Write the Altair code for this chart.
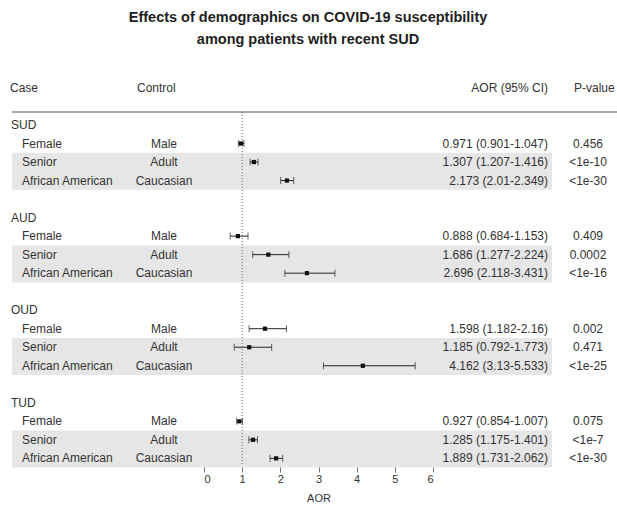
import altair as alt
import pandas as pd

# Substance-use-disorder groups and the demographic comparisons within each
groups = ["SUD", "AUD", "OUD", "TUD"]
cases = ["Female", "Senior", "African American"]
controls = ["Male", "Adult", "Caucasian"]

# Adjusted odds ratios with 95% confidence limits, in group order
aor = [0.971, 1.307, 2.173, 0.888, 1.686, 2.696, 1.598, 1.185, 4.162, 0.927, 1.285, 1.889]
ci_low = [0.901, 1.207, 2.01, 0.684, 1.277, 2.118, 1.182, 0.792, 3.13, 0.854, 1.175, 1.731]
ci_high = [1.047, 1.416, 2.349, 1.153, 2.224, 3.431, 2.16, 1.773, 5.533, 1.007, 1.401, 2.062]
p_values = ["0.456", "<1e-10", "<1e-30", "0.409", "0.0002", "<1e-16",
            "0.002", "0.471", "<1e-25", "0.075", "<1e-7", "<1e-30"]
x_ticks = [0, 1, 2, 3, 4, 5, 6]

FONT = "Liberation Sans"
INK = "#333333"

records = []
for i, (a, lo, hi, p) in enumerate(zip(aor, ci_low, ci_high, p_values)):
    g, k = divmod(i, 3)
    records.append({
        "group": groups[g], "case": cases[k], "control": controls[k],
        "row": 5 * g + k + 1, "aor": a, "lo": lo, "hi": hi,
        "label": f"{a:g} ({lo:g}-{hi:g})", "p": p, "shaded": k > 0,
    })
df = pd.DataFrame(records)
group_df = pd.DataFrame({"group": groups, "row": [5 * g for g in range(len(groups))]})
header_df = pd.DataFrame({"row": [-2]})
ref_df = pd.DataFrame({"v": [1]})
caps_df = df.melt(id_vars=["row"], value_vars=["lo", "hi"], value_name="cap")

y_scale = alt.Scale(domain=[-0.702, 18.413], reverse=True, nice=False, zero=False)
x_scale = alt.Scale(domain=[0, 6], nice=False, zero=False)
x_axis = alt.Axis(values=x_ticks, title="AOR", grid=False, format="d")


def xq(field):
    return alt.X(f"{field}:Q", scale=x_scale, axis=x_axis, title="AOR")


def yq(field="row"):
    return alt.Y(f"{field}:Q", scale=y_scale, axis=None)


base = alt.Chart(df)

# grey bands behind the Senior / African American rows
bands = base.transform_filter("datum.shaded").transform_calculate(
    y0="datum.row - 0.5", y1="datum.row + 0.5"
).mark_rect(color="#e6e6e6").encode(
    x=alt.value(-192), x2=alt.value(348),
    y=yq("y0"), y2=alt.Y2("y1:Q"),
)

header_rule = alt.Chart(header_df).mark_rule(color="#555", strokeWidth=1.2).encode(
    x=alt.value(-192), x2=alt.value(413), y=alt.value(0)
)

ref_line = alt.Chart(ref_df).mark_rule(color="#666", strokeDash=[1, 2], strokeWidth=1).encode(
    x=xq("v"), y=alt.value(0), y2=alt.value(354)
)

ci_lines = base.mark_rule(color="#222", strokeWidth=1).encode(
    x=xq("lo"), x2="hi:Q", y=yq()
)
ci_caps = alt.Chart(caps_df).mark_tick(
    color="#222", orient="vertical", size=7, thickness=1
).encode(x=xq("cap"), y=yq())
points = base.mark_square(color="#111", size=18, opacity=1).encode(x=xq("aor"), y=yq())

txt = dict(font=FONT, fontSize=12, color=INK, baseline="middle")

group_labels = alt.Chart(group_df).mark_text(align="left", **txt).encode(
    x=alt.value(-193), y=yq(), text="group:N"
)
case_labels = base.mark_text(align="left", **txt).encode(
    x=alt.value(-182), y=yq(), text="case:N"
)
control_labels = base.mark_text(align="center", **txt).encode(
    x=alt.value(-40), y=yq(), text="control:N"
)
aor_labels = base.mark_text(align="right", **txt).encode(
    x=alt.value(344), y=yq(), text="label:N"
)
p_labels = base.mark_text(align="center", **txt).encode(
    x=alt.value(384), y=yq(), text="p:N"
)

hdr = alt.Chart(header_df)
headers = (
    hdr.mark_text(align="left", text="Case", **txt).encode(x=alt.value(-194), y=yq())
    + hdr.mark_text(align="left", text="Control", **txt).encode(x=alt.value(-67), y=yq())
    + hdr.mark_text(align="right", text="AOR (95% CI)", **txt).encode(x=alt.value(344), y=yq())
    + hdr.mark_text(align="left", text="P-value", **txt).encode(x=alt.value(370), y=yq())
)

title_style = dict(font=FONT, fontSize=14.5, fontWeight="bold", color="#1e1e1e",
                   align="center", baseline="middle")
titles = (
    hdr.mark_text(text="Effects of demographics on COVID-19 susceptibility", **title_style)
    .encode(x=alt.value(104), y=alt.value(-94))
    + hdr.mark_text(text="among patients with recent SUD", **title_style)
    .encode(x=alt.value(104), y=alt.value(-72))
)

chart = alt.layer(
    bands, header_rule, ref_line, ci_lines, ci_caps, points,
    group_labels, case_labels, control_labels, aor_labels, p_labels,
    headers, titles,
).properties(
    width=229, height=354,
    autosize=alt.AutoSizeParams(type="none"),
    padding={"left": 204, "top": 112, "right": 184, "bottom": 39},
    background="white",
).configure_view(stroke=None).configure_axis(
    domainColor="#777", tickColor="#777", tickSize=6, domainWidth=1, tickWidth=1,
    labelFont=FONT, labelFontSize=11, labelColor="#333", labelPadding=1,
    titleFont=FONT, titleFontSize=11, titleFontWeight="normal", titleColor="#333",
    titlePadding=8,
)

chart.save("out.html", embed_options={"renderer": "svg", "actions": False})
